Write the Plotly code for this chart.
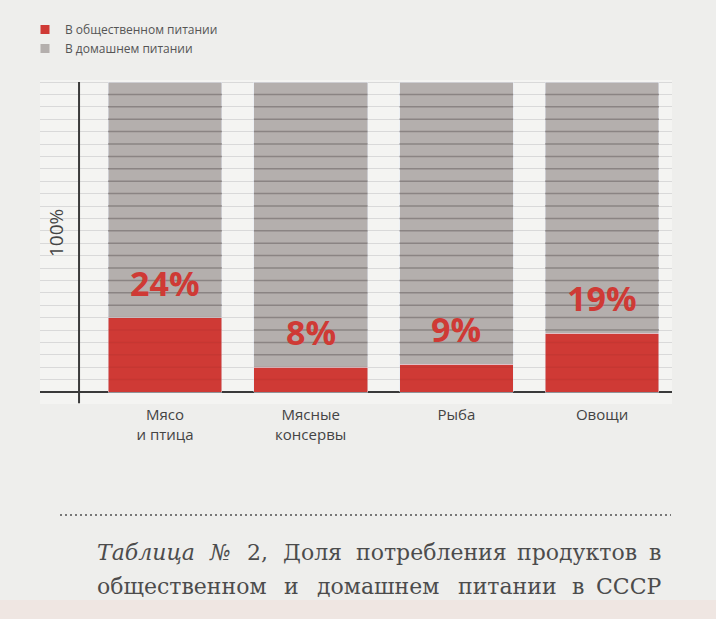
import plotly.graph_objects as go

# ---- data ----
categories = ["Мясо<br>и птица", "Мясные<br>консервы", "Рыба", "Овощи"]
public_share = [24, 8, 9, 19]          # В общественном питании, %
home_share = [100 - v for v in public_share]  # В домашнем питании, %
value_labels = ["24%", "8%", "9%", "19%"]
series_names = ["В общественном питании", "В домашнем питании"]
caption_line1 = [("Таблица", True), ("№", True), ("2,", False), ("Доля", False),
                 ("потребления", False), ("продуктов", False), ("в", False)]
caption_line2 = ["общественном", "и", "домашнем", "питании", "в", "СССР"]

# ---- style ----
W, H = 716, 619
RED = "#cf3a35"
GREY = "#b4afad"
TXT = "#4c4c4c"
PAPER = "#eeeeec"
PLOT = "#f4f4f2"
ML, MR, MT, MB = 40, 44, 80, 215
PW, PH = W - ML - MR, H - MT - MB
X_RANGE = [-0.858, 3.48]
Y_RANGE = [-3.87, 100.65]
BAR_W = 0.78
GRID_STEP = 4


def px(xpix):
    return (xpix - ML) / PW


def py(ypix):
    return (H - MB - ypix) / PH


idx = list(range(len(categories)))

fig = go.Figure()
fig.add_trace(go.Bar(x=idx, y=public_share, marker_color=RED, width=BAR_W,
                     showlegend=False, hoverinfo="skip"))
fig.add_trace(go.Bar(x=idx, y=home_share, marker_color=GREY, width=BAR_W,
                     showlegend=False, hoverinfo="skip"))
# legend proxies
for name, col in zip(series_names, [RED, GREY]):
    fig.add_trace(go.Scatter(x=[None], y=[None], mode="markers", name=name,
                             marker=dict(symbol="square", size=9, color=col)))

shapes = []
# gridlines drawn over the bars
for i, pub in enumerate(public_share):
    for g in range(GRID_STEP, 100, GRID_STEP):
        col = "#8a8483" if g > pub else "rgba(120,30,30,0.10)"
        shapes.append(dict(type="line", xref="x", yref="y",
                           x0=i - BAR_W / 2, x1=i + BAR_W / 2, y0=g, y1=g,
                           line=dict(color=col, width=1.5), layer="above"))
# vertical axis line
shapes.append(dict(type="line", xref="x", yref="y", x0=-0.59, x1=-0.59,
                   y0=-3.6, y1=100, line=dict(color="#3a3a3a", width=2),
                   layer="above"))
# dotted separator
shapes.append(dict(type="line", xref="paper", yref="paper",
                   x0=px(60), x1=px(671), y0=py(515), y1=py(515),
                   line=dict(color="#777777", width=2, dash="2px,3px")))
# page edge at the bottom
shapes.append(dict(type="rect", xref="paper", yref="paper",
                   x0=px(0), x1=px(W), y0=py(H), y1=py(600),
                   fillcolor="#efe6e2", line=dict(width=0), layer="below"))

annotations = []
for i, (pub, lab) in enumerate(zip(public_share, value_labels)):
    annotations.append(dict(x=i, y=pub, xref="x", yref="y", text=lab,
                            showarrow=False, yanchor="middle", yshift=35,
                            font=dict(family="Open Sans", size=34, color=RED,
                                      weight="bold")))
annotations.append(dict(x=px(56), y=py(233), xref="paper", yref="paper",
                        xanchor="center", yanchor="middle", textangle=-90,
                        text="100%", showarrow=False,
                        font=dict(family="Open Sans", size=19, color="#444444")))

# caption (justified lines, each word placed; last word flush right)
CAP_FONT = dict(family="DejaVu Serif", size=22, color=TXT)
line1_x = [95, 207, 245, 281, 354, 515, 663]
line2_x = [95, 282, 315, 456, 570, 663]
for k, ((w, it), x) in enumerate(zip(caption_line1, line1_x)):
    annotations.append(dict(x=px(x), y=py(552), xref="paper", yref="paper",
                            xanchor="right" if k == len(line1_x) - 1 else "left",
                            yanchor="middle", showarrow=False,
                            text=f"<i>{w}</i>" if it else w, font=CAP_FONT))
for k, (w, x) in enumerate(zip(caption_line2, line2_x)):
    annotations.append(dict(x=px(x), y=py(586), xref="paper", yref="paper",
                            xanchor="right" if k == len(line2_x) - 1 else "left",
                            yanchor="middle", showarrow=False,
                            text=w, font=CAP_FONT))

fig.update_layout(
    width=W, height=H,
    margin=dict(l=ML, r=MR, t=MT, b=MB, pad=0),
    paper_bgcolor=PAPER, plot_bgcolor=PLOT,
    barmode="stack", bargap=1 - BAR_W,
    font=dict(family="Open Sans", color=TXT),
    legend=dict(x=px(25), y=py(15), xanchor="left", yanchor="top",
                traceorder="normal",
                bgcolor="rgba(0,0,0,0)", font=dict(size=12, color="#555555"),
                itemwidth=30, tracegroupgap=0),
    shapes=shapes, annotations=annotations,
    xaxis=dict(range=X_RANGE, tickmode="array", tickvals=idx, ticktext=categories,
               showgrid=False, zeroline=False, showline=False, ticks="",
               tickfont=dict(size=15, color="#444444"), fixedrange=True),
    yaxis=dict(range=Y_RANGE, tick0=0, dtick=GRID_STEP, showgrid=True,
               gridcolor="#d9d9d9", gridwidth=1, showticklabels=False,
               zeroline=True, zerolinecolor="#3a3a3a", zerolinewidth=2,
               showline=False, ticks="", fixedrange=True),
)

fig.write_html("out.html")
